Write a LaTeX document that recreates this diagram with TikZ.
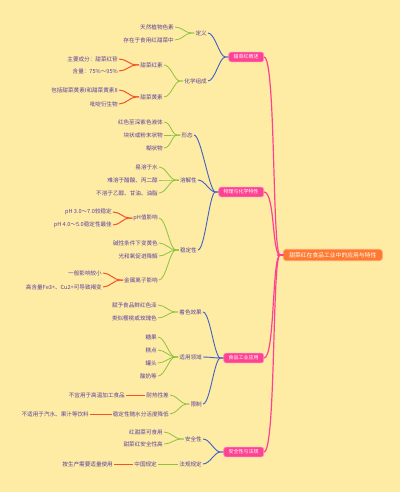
\documentclass[tikz,border=0pt]{standalone}
\usepackage{fontspec}
\newfontfamily\cjk{Noto Sans CJK SC}
\definecolor{bg}{HTML}{FEEBA4}
\definecolor{tc}{HTML}{5A429E}
\definecolor{pk}{HTML}{FF4192}
\definecolor{pkl}{HTML}{FF8DC0}
\definecolor{og}{HTML}{FF7A30}
\definecolor{ogl}{HTML}{FFA070}
\definecolor{bl}{HTML}{3F62C6}
\definecolor{gr}{HTML}{8CC43F}
\definecolor{rd}{HTML}{F0552A}
\newcommand\lk[3]{\draw[#1] (#2.west) -- ++(-3,0) .. controls +(-6,0) and +(7,0) .. (#3.east);}
\begin{document}
\begin{tikzpicture}[x=1pt,y=-1pt,
  txt/.style={font=\cjk\fontsize{5.6}{6.5}\selectfont, text=tc, inner sep=1pt, anchor=east},
  lone/.style={fill=pk, draw=pkl, line width=0.6pt, rounded corners=2.5pt, text=white,
    font=\cjk\fontsize{5}{6}\selectfont, inner xsep=5pt, inner ysep=2.6pt, anchor=east},
  rootbox/.style={fill=og, draw=ogl, line width=0.6pt, rounded corners=3pt, text=white,
    font=\cjk\fontsize{5.8}{7}\selectfont, inner xsep=6pt, inner ysep=3pt, anchor=west},
  pkline/.style={draw=pk, line width=1.2pt},
  blline/.style={draw=bl, line width=0.9pt},
  grline/.style={draw=gr, line width=0.8pt},
  rdline/.style={draw=rd, line width=1pt}]
\fill[bg] (0,0) rectangle (400,492);
\useasboundingbox (0,0) rectangle (400,492);

% root and level 1
\node[rootbox] (r) at (283,255) {甜菜红在食品工业中的应用与特性};
\node[lone] (o1) at (264,57) {甜菜红概述};
\node[lone] (o2) at (264,192) {物理与化学特性};
\node[lone] (o3) at (264,358) {食品工业应用};
\node[lone] (o4) at (264,452) {安全性与法规};

% level 2
\node[txt] (a1) at (208,33) {定义};
\node[txt] (a2) at (208,81) {化学组成};
\node[txt] (b1) at (194,135) {形态};
\node[txt] (b2) at (198,180) {溶解性};
\node[txt] (b3) at (198,250) {稳定性};
\node[txt] (c1) at (203,312) {着色效果};
\node[txt] (c2) at (203,357) {适用领域};
\node[txt] (c3) at (203,404) {限制};
\node[txt] (d1) at (203,439) {安全性};
\node[txt] (d2) at (203,464) {法规规定};

% level 3
\node[txt] (a11) at (175,27) {天然植物色素};
\node[txt] (a12) at (175,40) {存在于食用红甜菜中};
\node[txt] (a21) at (164,65) {甜菜红素};
\node[txt] (a22) at (164,97) {甜菜黄素};
\node[txt] (b11) at (164,122) {红色至深紫色液体};
\node[txt] (b12) at (164,135) {块状或粉末状物};
\node[txt] (b13) at (164,148) {糊状物};
\node[txt] (b21) at (159,167) {易溶于水};
\node[txt] (b22) at (159,180) {难溶于醋酸、丙二醇};
\node[txt] (b23) at (159,193) {不溶于乙醇、甘油、油脂};
\node[txt] (b31) at (159,218) {pH值影响};
\node[txt] (b32) at (159,243) {碱性条件下变黄色};
\node[txt] (b33) at (159,256) {光和氧促进降解};
\node[txt] (b34) at (159,280) {金属离子影响};
\node[txt] (c11) at (158,305) {赋予食品鲜红色泽};
\node[txt] (c12) at (158,318) {类似樱桃或玫瑰色};
\node[txt] (c21) at (158,337) {糖果};
\node[txt] (c22) at (158,350) {糕点};
\node[txt] (c23) at (158,363) {罐头};
\node[txt] (c24) at (158,376) {酸奶等};
\node[txt] (c31) at (170,395) {耐热性差};
\node[txt] (c32) at (170,414) {稳定性随水分活度降低};
\node[txt] (d11) at (164,432) {红甜菜可食用};
\node[txt] (d12) at (164,444) {甜菜红安全性高};
\node[txt] (d21) at (158,464) {中国规定};

% level 4
\node[txt] (a211) at (119,59) {主要成分：甜菜红苷};
\node[txt] (a212) at (119,71) {含量：75\%～95\%};
\node[txt] (a221) at (119,90) {包括甜菜黄素I和甜菜黄素II};
\node[txt] (a222) at (119,104) {吡啶衍生物};
\node[txt] (b311) at (113,212) {pH 3.0～7.0较稳定};
\node[txt] (b312) at (113,225) {pH 4.0～5.0稳定性最佳};
\node[txt] (b341) at (103,273) {一般影响较小};
\node[txt] (b342) at (103,287) {高含量Fe3+、Cu2+可导致褐变};
\node[txt] (c311) at (126,395) {不宜用于高温加工食品};
\node[txt] (c321) at (90,414) {不适用于汽水、果汁等饮料};
\node[txt] (d211) at (114,464) {按生产需要适量使用};

% pink connectors
\draw[pkline] (r.west) -- ++(-3,0) .. controls (272,255) and (276,57) .. (o1.east);
\draw[pkline] (r.west) -- ++(-3,0) .. controls (272,255) and (275,192) .. (o2.east);
\draw[pkline] (r.west) -- ++(-3,0) .. controls (272,255) and (275,358) .. (o3.east);
\draw[pkline] (r.west) -- ++(-3,0) .. controls (272,255) and (276,452) .. (o4.east);
\draw[draw=pk, line width=2.6pt, line cap=round] (r.west) -- ++(-5,0);

% blue connectors
\lk{blline}{o1}{a1}
\lk{blline}{o1}{a2}
\lk{blline}{o2}{b1}
\lk{blline}{o2}{b2}
\lk{blline}{o2}{b3}
\lk{blline}{o3}{c1}
\lk{blline}{o3}{c2}
\lk{blline}{o3}{c3}
\lk{blline}{o4}{d1}
\lk{blline}{o4}{d2}

% green connectors
\lk{grline}{a1}{a11}
\lk{grline}{a1}{a12}
\lk{grline}{a2}{a21}
\lk{grline}{a2}{a22}
\lk{grline}{b1}{b11}
\lk{grline}{b1}{b12}
\lk{grline}{b1}{b13}
\lk{grline}{b2}{b21}
\lk{grline}{b2}{b22}
\lk{grline}{b2}{b23}
\lk{grline}{b3}{b31}
\lk{grline}{b3}{b32}
\lk{grline}{b3}{b33}
\lk{grline}{b3}{b34}
\lk{grline}{c1}{c11}
\lk{grline}{c1}{c12}
\lk{grline}{c2}{c21}
\lk{grline}{c2}{c22}
\lk{grline}{c2}{c23}
\lk{grline}{c2}{c24}
\lk{grline}{c3}{c31}
\lk{grline}{c3}{c32}
\lk{grline}{d1}{d11}
\lk{grline}{d1}{d12}
\draw[grline] (d2.west) -- (d21.east);

% red connectors
\lk{rdline}{a21}{a211}
\lk{rdline}{a21}{a212}
\lk{rdline}{a22}{a221}
\lk{rdline}{a22}{a222}
\lk{rdline}{b31}{b311}
\lk{rdline}{b31}{b312}
\lk{rdline}{b34}{b341}
\lk{rdline}{b34}{b342}
\draw[rdline] (c31.west) -- (c311.east);
\draw[rdline] (c32.west) -- (c321.east);
\draw[rdline] (d21.west) -- (d211.east);
\end{tikzpicture}
\end{document}
